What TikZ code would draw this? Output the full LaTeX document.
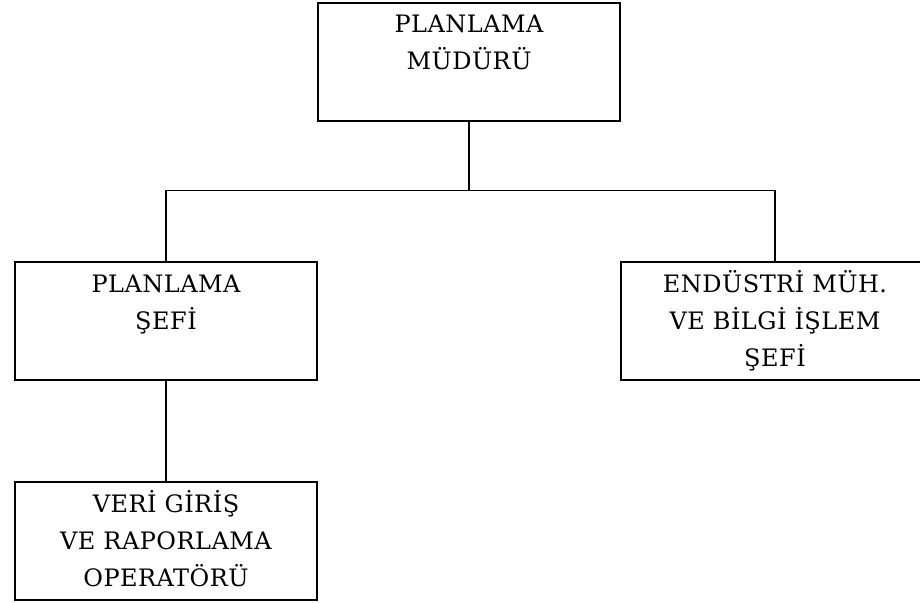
\documentclass[tikz,border=0pt]{standalone}
\usepackage{fontspec}
\setmainfont{DejaVu Serif}[LetterSpace=2]
\begin{document}
\begin{tikzpicture}[
            level 1/.style={level distance=259pt, sibling distance=606pt},
            level 2/.style={level distance=220pt},
            every node/.style={rectangle, draw, line width=1.1pt, text width=302pt, align=center, inner sep=0pt, text height=30pt, text depth=88pt, font=\fontsize{24}{37}\selectfont},
            edge from parent/.style={draw, line width=1.1pt},
            edge from parent path={(\tikzparentnode.south) -- ++(0,-69pt) -| (\tikzchildnode.north)}
            ]
            \useasboundingbox (0,0) rectangle (920pt,-602pt);
            \node (mudur) at (469pt,-62pt) {PLANLAMA\\MÜDÜRÜ}
              child {node (planSefi) {PLANLAMA\\ŞEFİ}
                child {node (operator) {VERİ GİRİŞ\\VE RAPORLAMA\\OPERATÖRÜ}}}
              child {node[text width=308pt, xshift=3pt] (endSefi) {ENDÜSTRİ MÜH.\\VE BİLGİ İŞLEM\\ŞEFİ}};
        \end{tikzpicture}
\end{document}
